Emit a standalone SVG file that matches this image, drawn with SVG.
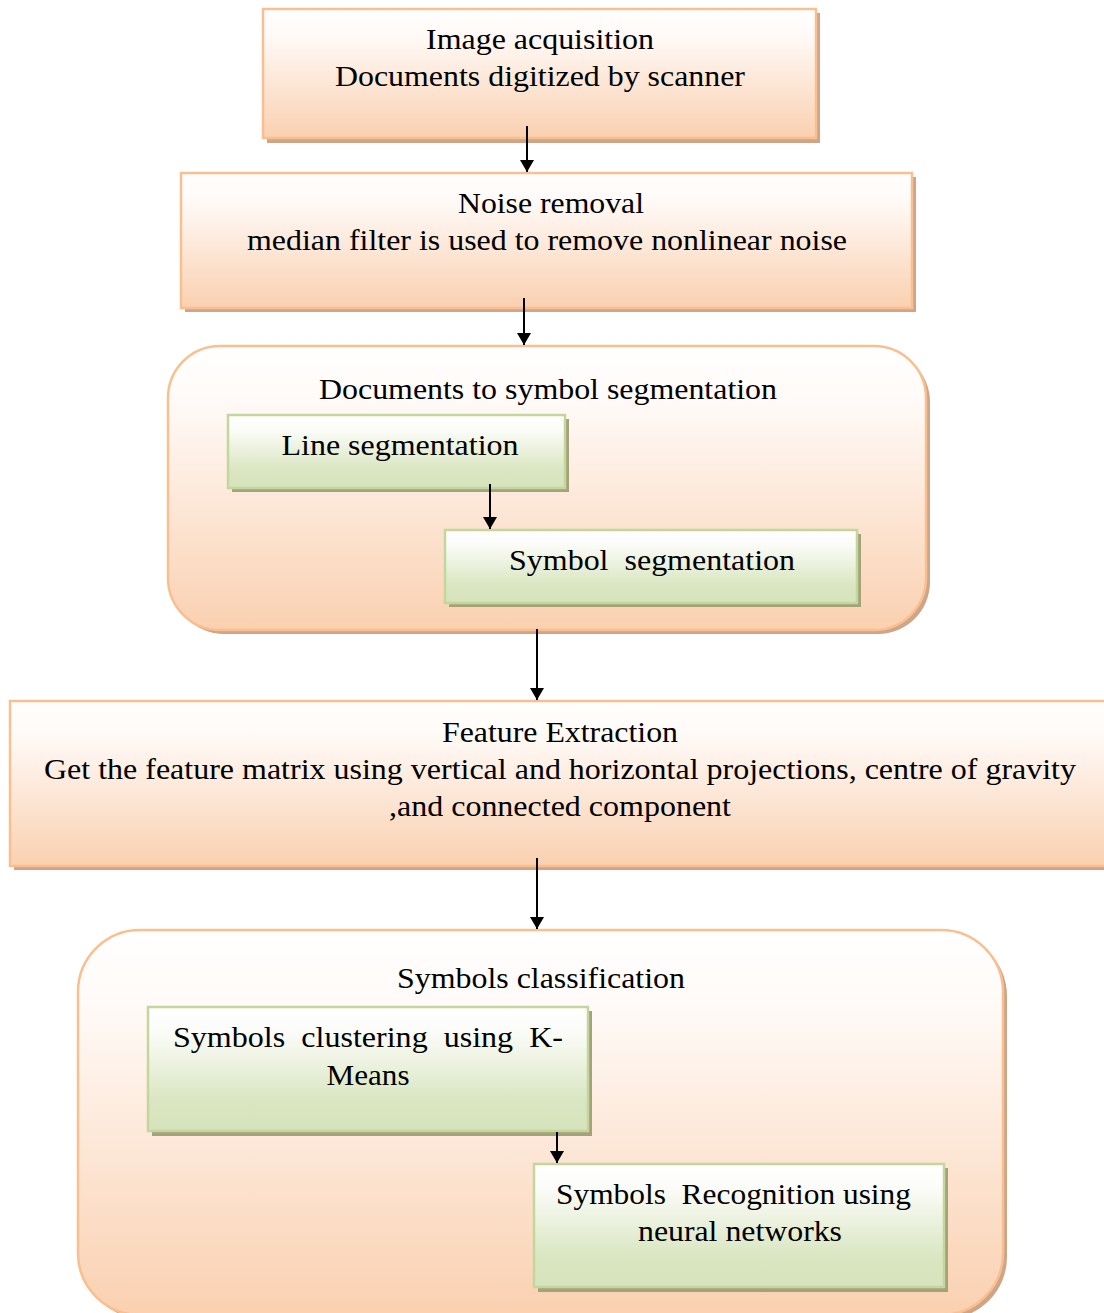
<svg xmlns="http://www.w3.org/2000/svg" width="1104" height="1313" viewBox="0 0 1104 1313">
<defs>
<linearGradient id="go" x1="0" y1="0" x2="0" y2="1">
<stop offset="0" stop-color="#ffffff"/>
<stop offset="0.2" stop-color="#fffaf7"/>
<stop offset="1" stop-color="#fad0b0"/>
</linearGradient>
<linearGradient id="gg" x1="0" y1="0" x2="0" y2="1">
<stop offset="0" stop-color="#ffffff"/>
<stop offset="0.2" stop-color="#fbfcf8"/>
<stop offset="0.75" stop-color="#dae6c2"/>
<stop offset="1" stop-color="#d6e3bb"/>
</linearGradient>
<marker id="ah" viewBox="0 0 12 14" refX="12" refY="7" markerWidth="12" markerHeight="14" markerUnits="userSpaceOnUse" orient="auto">
<path d="M0,0 L12,7 L0,14 z" fill="#000"/>
</marker>
<style>
.o{fill:url(#go);stroke:#f9bf8f;stroke-width:2.5}
.os{fill:#cda588}
.g{fill:url(#gg);stroke:#c3d69b;stroke-width:2.5}
.gs{fill:#a3a27a}
text{font-family:"Liberation Serif","Times New Roman",serif;font-size:30px;fill:#000}
.c{stroke:#000;stroke-width:2;fill:none;marker-end:url(#ah)}
</style>
</defs>

<g id="n1">
<rect class="os" x="267" y="13" width="553" height="130"/>
<rect class="o" x="263" y="9" width="553" height="129"/>
<text x="540" y="49" text-anchor="middle" textLength="228" lengthAdjust="spacingAndGlyphs">Image acquisition</text>
<text x="540" y="86" text-anchor="middle" textLength="410" lengthAdjust="spacingAndGlyphs">Documents digitized by scanner</text>
</g>

<g id="n2">
<rect class="os" x="185" y="177" width="731" height="135"/>
<rect class="o" x="181" y="173" width="731" height="135"/>
<text x="551" y="213" text-anchor="middle" textLength="186" lengthAdjust="spacingAndGlyphs">Noise removal</text>
<text x="547" y="250" text-anchor="middle" textLength="600" lengthAdjust="spacingAndGlyphs">median filter is used to remove nonlinear noise</text>
</g>

<g id="n3">
<rect class="os" x="172" y="350" width="758" height="284" rx="52"/>
<rect class="o" x="168" y="346" width="758" height="284" rx="52"/>
<text x="548" y="399" text-anchor="middle" textLength="458" lengthAdjust="spacingAndGlyphs">Documents to symbol segmentation</text>
</g>

<g id="n3a">
<rect class="gs" x="232" y="419" width="337" height="73"/>
<rect class="g" x="228" y="415" width="337" height="73"/>
<text x="400" y="455" text-anchor="middle" textLength="237" lengthAdjust="spacingAndGlyphs">Line segmentation</text>
</g>

<g id="n3b">
<rect class="gs" x="449" y="534" width="412" height="73"/>
<rect class="g" x="445" y="530" width="412" height="73"/>
<text x="652" y="570" text-anchor="middle" textLength="286" lengthAdjust="spacingAndGlyphs" xml:space="preserve">Symbol  segmentation</text>
</g>

<g id="n4">
<rect class="os" x="14" y="705" width="1094" height="165"/>
<rect class="o" x="10" y="701" width="1096" height="165"/>
<text x="560" y="742" text-anchor="middle" textLength="236" lengthAdjust="spacingAndGlyphs">Feature Extraction</text>
<text x="560" y="779" text-anchor="middle" textLength="1032" lengthAdjust="spacingAndGlyphs">Get the feature matrix using vertical and horizontal projections, centre of gravity</text>
<text x="560" y="816" text-anchor="middle" textLength="342" lengthAdjust="spacingAndGlyphs">,and connected component</text>
</g>

<g id="n5">
<rect class="os" x="82" y="934" width="925" height="385" rx="62"/>
<rect class="o" x="78" y="930" width="925" height="385" rx="62"/>
<text x="541" y="988" text-anchor="middle" textLength="288" lengthAdjust="spacingAndGlyphs">Symbols classification</text>
</g>

<g id="n5a">
<rect class="gs" x="152" y="1011" width="440" height="125"/>
<rect class="g" x="148" y="1007" width="440" height="124"/>
<text x="173" y="1047" textLength="390" lengthAdjust="spacingAndGlyphs" xml:space="preserve">Symbols  clustering  using  K-</text>
<text x="368" y="1085" text-anchor="middle" textLength="83" lengthAdjust="spacingAndGlyphs">Means</text>
</g>

<g id="n5b">
<rect class="gs" x="538" y="1168" width="410" height="124"/>
<rect class="g" x="534" y="1164" width="410" height="123"/>
<text x="556" y="1204" textLength="355" lengthAdjust="spacingAndGlyphs" xml:space="preserve">Symbols  Recognition using</text>
<text x="740" y="1241" text-anchor="middle" textLength="204" lengthAdjust="spacingAndGlyphs">neural networks</text>
</g>

<g id="connectors">
<line class="c" x1="527" y1="126" x2="527" y2="172"/>
<line class="c" x1="524" y1="298" x2="524" y2="345"/>
<line class="c" x1="490" y1="484" x2="490" y2="529"/>
<line class="c" x1="537" y1="629" x2="537" y2="700"/>
<line class="c" x1="537" y1="858" x2="537" y2="929"/>
<line class="c" x1="557" y1="1132" x2="557" y2="1163"/>
</g>
</svg>
